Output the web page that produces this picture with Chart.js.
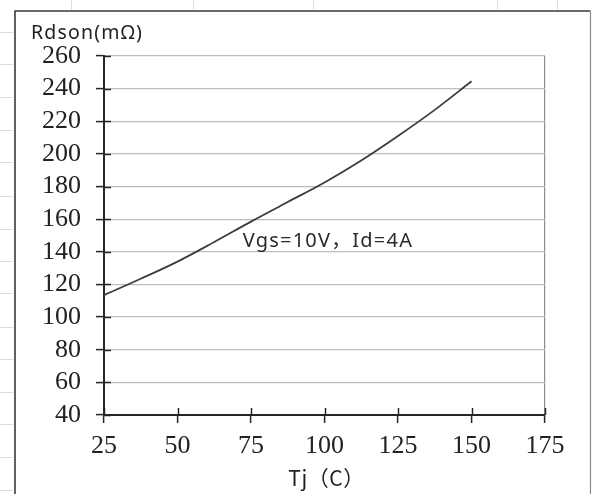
<!DOCTYPE html>
<html>
<head>
<meta charset="utf-8">
<title>Rdson vs Tj</title>
<script src="https://cdn.jsdelivr.net/npm/chart.js@4/dist/chart.umd.min.js"></script>
<style>
  html, body { margin: 0; padding: 0; background: #ffffff; }
  #wrap { position: relative; width: 593px; height: 494px; }
</style>
</head>
<body>
<div id="wrap"><canvas id="rdson" width="593" height="494"></canvas></div>
<script>
// Junction temperature (°C) and on-resistance (mΩ) along the curve
const tjValues    = [25, 37.5, 50, 62.5, 75, 87.5, 100, 112.5, 125, 137.5, 150];
const rdsonValues = [113.5, 123.5, 134, 146, 158.5, 170.5, 182.5, 196, 211, 227, 244.5];

// Axis tick labels
const xTickLabels = [25, 50, 75, 100, 125, 150, 175];
const yTickLabels = [40, 60, 80, 100, 120, 140, 160, 180, 200, 220, 240, 260];

// Texts
const yAxisTitle = 'Rdson(mΩ)';
const xAxisTitle = 'Tj（C）';
const conditionText = 'Vgs=10V，Id=4A';

const points = tjValues.map((t, i) => ({ x: t, y: rdsonValues[i] }));

const TICK_DARK = '#262626';

// Sheet background: faint cell lines around a framed chart object
const sheetFrame = {
  id: 'sheetFrame',
  beforeDraw(chart) {
    const ctx = chart.ctx;
    const W = chart.width, H = chart.height;
    ctx.save();
    ctx.fillStyle = '#ffffff';
    ctx.fillRect(0, 0, W, H);
    ctx.strokeStyle = '#dcdcdc';
    ctx.lineWidth = 1;
    [32, 64, 97, 130, 162, 196, 229, 261, 293, 327, 359, 392, 424, 457, 490].forEach(y => {
      ctx.beginPath(); ctx.moveTo(0, y + 0.5); ctx.lineTo(13, y + 0.5); ctx.stroke();
    });
    [71, 193, 313, 497, 557].forEach(x => {
      ctx.beginPath(); ctx.moveTo(x + 0.5, 0); ctx.lineTo(x + 0.5, 10); ctx.stroke();
    });
    // chart object frame
    ctx.strokeStyle = '#3a3a3a';
    ctx.lineWidth = 1.6;
    ctx.beginPath();
    ctx.moveTo(15, H + 2); ctx.lineTo(15, 11); ctx.lineTo(590.5, 11);
    ctx.stroke();
    ctx.strokeStyle = '#8a8a8a';
    ctx.lineWidth = 1.2;
    ctx.beginPath();
    ctx.moveTo(590.5, 11); ctx.lineTo(590.5, H + 2);
    ctx.stroke();
    ctx.restore();
  }
};

// Cross-style tick marks (inner half) and the chart's text labels
const crossTicksAndText = {
  id: 'crossTicksAndText',
  afterDraw(chart) {
    const ctx = chart.ctx;
    const xs = chart.scales.x, ys = chart.scales.y;
    const area = chart.chartArea;
    ctx.save();
    ctx.strokeStyle = TICK_DARK;
    ctx.lineWidth = 1.5;
    ys.ticks.forEach(t => {
      const py = Math.round(ys.getPixelForValue(t.value)) + 0.5;
      ctx.beginPath(); ctx.moveTo(area.left, py); ctx.lineTo(area.left + 7, py); ctx.stroke();
    });
    xs.ticks.forEach(t => {
      const px = Math.round(xs.getPixelForValue(t.value)) + 0.5;
      ctx.beginPath(); ctx.moveTo(px, area.bottom); ctx.lineTo(px, area.bottom - 7); ctx.stroke();
    });

    ctx.fillStyle = '#1e1e1e';
    ctx.textBaseline = 'alphabetic';
    try { ctx.letterSpacing = '1.2px'; } catch (e) {}

    // vertical axis title, upper left
    ctx.font = '19.5px "Noto Sans", "Noto Sans CJK SC", sans-serif';
    ctx.textAlign = 'left';
    ctx.fillText(yAxisTitle, 31, 39);

    // test condition, placed in data space
    ctx.fillStyle = '#2a2a2a';
    ctx.font = '20px "Noto Sans", "Noto Sans CJK SC", sans-serif';
    ctx.fillText(conditionText, xs.getPixelForValue(72.2), ys.getPixelForValue(143));

    // horizontal axis title, centred under the plot
    try { ctx.letterSpacing = '0.5px'; } catch (e) {}
    ctx.fillStyle = '#1e1e1e';
    ctx.font = '21px "Noto Sans CJK SC", "Noto Sans", sans-serif';
    ctx.textAlign = 'center';
    ctx.fillText(xAxisTitle, (area.left + area.right) / 2 + 2, 486);
    ctx.restore();
  }
};

new Chart(document.getElementById('rdson'), {
  type: 'line',
  data: {
    datasets: [{
      data: points,
      borderColor: '#3c3c3c',
      borderWidth: 1.8,
      pointRadius: 0,
      fill: false,
      tension: 0.35
    }]
  },
  options: {
    responsive: false,
    devicePixelRatio: 1,
    animation: false,
    events: [],
    layout: { padding: { left: 0, right: 48, top: 56, bottom: 0 } },
    plugins: { legend: { display: false }, tooltip: { enabled: false }, title: { display: false } },
    scales: {
      x: {
        type: 'linear',
        min: xTickLabels[0],
        max: xTickLabels[xTickLabels.length - 1],
        afterBuildTicks(scale) { scale.ticks = xTickLabels.map(v => ({ value: v })); },
        afterFit(scale) { scale.height = 79; },
        ticks: {
          color: '#222222',
          font: { family: '"Liberation Serif", serif', size: 26 },
          padding: 8,
          maxRotation: 0,
          autoSkip: false
        },
        grid: {
          drawOnChartArea: true,
          color: ctx => (ctx.tick && ctx.tick.value === xTickLabels[xTickLabels.length - 1]) ? '#8c8c8c' : 'rgba(0,0,0,0)',
          tickColor: TICK_DARK,
          tickLength: 8,
          tickWidth: 1.5,
          lineWidth: 1.2
        },
        border: { display: true, color: TICK_DARK, width: 2 }
      },
      y: {
        type: 'linear',
        min: yTickLabels[0],
        max: yTickLabels[yTickLabels.length - 1],
        afterBuildTicks(scale) { scale.ticks = yTickLabels.map(v => ({ value: v })); },
        afterFit(scale) { scale.width = 104; },
        ticks: {
          color: '#222222',
          font: { family: '"Liberation Serif", serif', size: 26 },
          padding: 15,
          autoSkip: false
        },
        grid: {
          color: '#bdbdbd',
          lineWidth: 1.2,
          tickColor: TICK_DARK,
          tickLength: 8,
          tickWidth: 1.5
        },
        border: { display: true, color: TICK_DARK, width: 2 }
      }
    }
  },
  plugins: [sheetFrame, crossTicksAndText]
});
</script>
</body>
</html>
